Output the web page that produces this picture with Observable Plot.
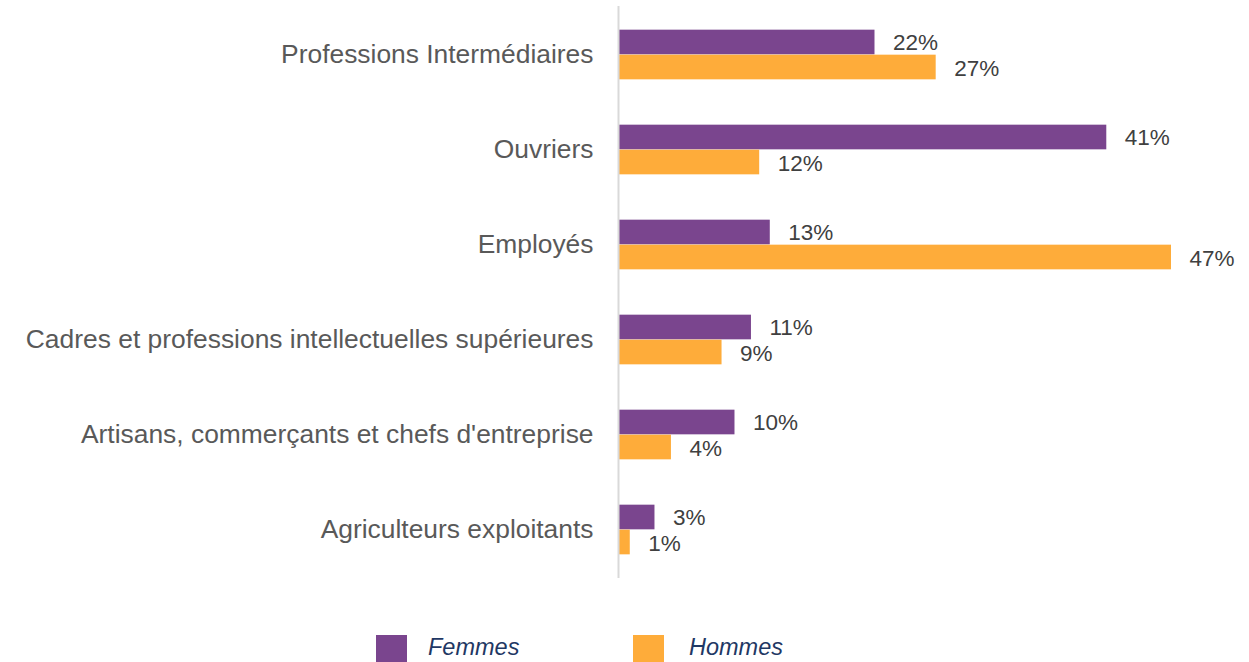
<!DOCTYPE html>
<html>
<head>
<meta charset="utf-8">
<script src="https://cdn.jsdelivr.net/npm/d3@7"></script>
<script src="https://cdn.jsdelivr.net/npm/@observablehq/plot@0.6"></script>
<style>
  body { margin: 0; background: #fff; font-family: "Liberation Sans", Arial, sans-serif; }
  #legend { position: relative; height: 72px; }
  .sw { position: absolute; top: 45px; width: 31px; height: 27px; }
  .lt { position: absolute; top: 44px; font-style: italic; font-size: 23.5px; color: #1F3864; }
</style>
</head>
<body>
<div id="chart"></div>
<div id="legend">
  <div class="sw" style="left:376px;background:#7A458E"></div>
  <div class="lt" style="left:428px">Femmes</div>
  <div class="sw" style="left:633px;background:#FEAC3A"></div>
  <div class="lt" style="left:689px">Hommes</div>
</div>
<script>
const categories = ["Professions Intermédiaires", "Ouvriers", "Employés", "Cadres et professions intellectuelles supérieures", "Artisans, commerçants et chefs d'entreprise", "Agriculteurs exploitants"];
const femmes = [21.8, 41.5, 12.9, 11.3, 9.9, 3.1];
const hommes = [27.0, 12.0, 47.0, 8.8, 4.5, 1.0];
const femmesLabels = ["22%", "41%", "13%", "11%", "10%", "3%"];
const hommesLabels = ["27%", "12%", "47%", "9%", "4%", "1%"];

const fData = categories.map((c, i) => ({cat: c, v: femmes[i], label: femmesLabels[i]}));
const hData = categories.map((c, i) => ({cat: c, v: hommes[i], label: hommesLabels[i]}));

const svgH = 590, mTop = 6, mBottom = 12;
const band = (svgH - mTop - mBottom) / categories.length;
const barH = 25;

const chart = Plot.plot({
  width: 1249,
  height: svgH,
  marginLeft: 618,
  marginRight: 78,
  marginTop: mTop,
  marginBottom: mBottom,
  style: {fontFamily: "Liberation Sans, Arial, sans-serif", fontSize: "26.4px", color: "#595959", background: "#fff"},
  x: {domain: [0, 47], axis: null},
  y: {domain: categories, padding: 0, tickSize: 0, tickPadding: 25, label: null},
  marks: [
    Plot.barX(fData, {x: "v", y: "cat", fill: "#7A458E", insetTop: band / 2 - barH, insetBottom: band / 2}),
    Plot.barX(hData, {x: "v", y: "cat", fill: "#FEAC3A", insetTop: band / 2, insetBottom: band / 2 - barH}),
    Plot.ruleX([0], {stroke: "#D9D9D9", strokeWidth: 2}),
    Plot.text(fData, {x: "v", y: "cat", text: "label", dx: 18, dy: -12, textAnchor: "start", fill: "#404040", fontSize: 22.5}),
    Plot.text(hData, {x: "v", y: "cat", text: "label", dx: 18, dy: 14, textAnchor: "start", fill: "#404040", fontSize: 22.5})
  ]
});
document.getElementById("chart").appendChild(chart);
</script>
</body>
</html>
